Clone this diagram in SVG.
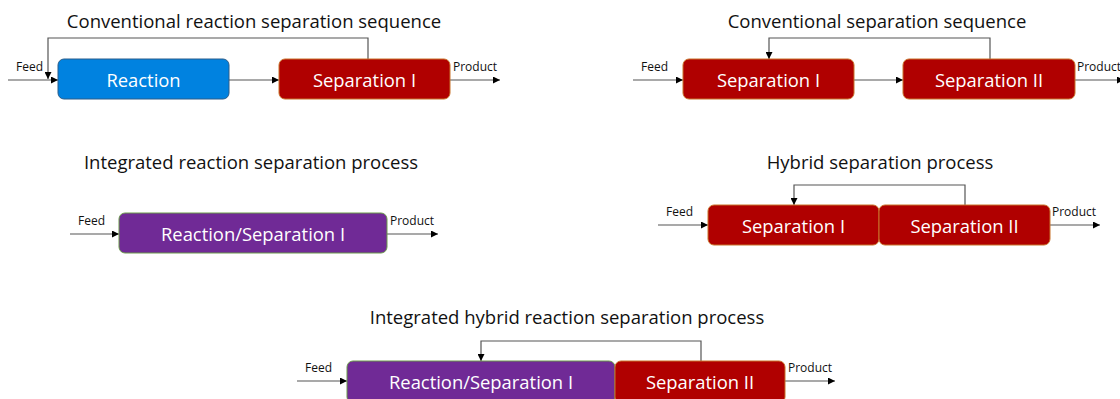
<svg xmlns="http://www.w3.org/2000/svg" width="1120" height="399" viewBox="0 0 1120 399">
  <style>
    .title { font-family: "Open Sans", "Liberation Sans", sans-serif; font-size: 18.5px; fill: #111; text-anchor: middle; }
    .box-text { font-family: "Open Sans", "Liberation Sans", sans-serif; font-size: 18.4px; fill: #fff; text-anchor: middle; dominant-baseline: central; }
    .lbl { font-family: "Open Sans", "Liberation Sans", sans-serif; font-size: 12px; fill: #111; }
    .react { fill: #0082E0; stroke: #2a5d8a; stroke-width: 1; }
    .sep { fill: #B00000; stroke: #c8722a; stroke-width: 1; }
    .combo { fill: #702A96; stroke: #6a9a4a; stroke-width: 1; }
    .line { fill: none; stroke: #555; stroke-width: 1.2; }
  </style>
  <defs>
    <marker id="arrow" viewBox="0 0 10 10" refX="10" refY="5" markerWidth="7" markerHeight="7" markerUnits="userSpaceOnUse" orient="auto">
      <path d="M0,0 L10,5 L0,10 z" fill="#000"/>
    </marker>
  </defs>
  <rect width="1120" height="399" fill="#fff"/>

  <!-- titles -->
  <text class="title" x="254" y="28">Conventional reaction separation sequence</text>
  <text class="title" x="877" y="28">Conventional separation sequence</text>
  <text class="title" x="251" y="169">Integrated reaction separation process</text>
  <text class="title" x="880" y="169">Hybrid separation process</text>
  <text class="title" x="567" y="324">Integrated hybrid reaction separation process</text>

  <!-- connectors -->
  <g id="connectors">
    <!-- conventional reaction separation sequence -->
    <line class="line" x1="8" y1="80" x2="58" y2="80" marker-end="url(#arrow)"/>
    <line class="line" x1="229" y1="80" x2="279" y2="80" marker-end="url(#arrow)"/>
    <line class="line" x1="450" y1="80" x2="500" y2="80" marker-end="url(#arrow)"/>
    <polyline class="line" points="368,59 368,38 48,38 48,79" marker-end="url(#arrow)"/>
    <!-- conventional separation sequence -->
    <line class="line" x1="633" y1="80" x2="683" y2="80" marker-end="url(#arrow)"/>
    <line class="line" x1="854" y1="80" x2="903" y2="80" marker-end="url(#arrow)"/>
    <line class="line" x1="1075" y1="80" x2="1124" y2="80" marker-end="url(#arrow)"/>
    <polyline class="line" points="990,59 990,38 769,38 769,59" marker-end="url(#arrow)"/>
    <!-- integrated reaction separation process -->
    <line class="line" x1="70" y1="234" x2="119" y2="234" marker-end="url(#arrow)"/>
    <line class="line" x1="387" y1="234" x2="438" y2="234" marker-end="url(#arrow)"/>
    <!-- hybrid separation process -->
    <line class="line" x1="658" y1="225" x2="708" y2="225" marker-end="url(#arrow)"/>
    <line class="line" x1="1050" y1="225" x2="1100" y2="225" marker-end="url(#arrow)"/>
    <polyline class="line" points="965,205 965,185 794,185 794,205" marker-end="url(#arrow)"/>
    <!-- integrated hybrid reaction separation process -->
    <line class="line" x1="297" y1="381" x2="347" y2="381" marker-end="url(#arrow)"/>
    <line class="line" x1="785" y1="381" x2="835" y2="381" marker-end="url(#arrow)"/>
    <polyline class="line" points="701,361 701,341 481,341 481,361" marker-end="url(#arrow)"/>
  </g>

  <!-- stream labels -->
  <text class="lbl" x="16" y="71">Feed</text>
  <text class="lbl" x="453" y="71">Product</text>
  <text class="lbl" x="641" y="71">Feed</text>
  <text class="lbl" x="1077" y="71">Product</text>
  <text class="lbl" x="78" y="225">Feed</text>
  <text class="lbl" x="390" y="225">Product</text>
  <text class="lbl" x="666" y="216">Feed</text>
  <text class="lbl" x="1052" y="216">Product</text>
  <text class="lbl" x="305" y="372">Feed</text>
  <text class="lbl" x="788" y="372">Product</text>

  <!-- conventional reaction separation sequence -->
  <g id="reaction">
    <rect class="react" x="58" y="59" width="171" height="40" rx="6"/>
    <text class="box-text" x="143.5" y="79">Reaction</text>
  </g>
  <g id="separation-1a">
    <rect class="sep" x="279" y="59" width="171" height="40" rx="6"/>
    <text class="box-text" x="364.5" y="79">Separation I</text>
  </g>

  <!-- conventional separation sequence -->
  <g id="separation-1b">
    <rect class="sep" x="683" y="59" width="171" height="40" rx="6"/>
    <text class="box-text" x="768.5" y="79">Separation I</text>
  </g>
  <g id="separation-2b">
    <rect class="sep" x="903" y="59" width="172" height="40" rx="6"/>
    <text class="box-text" x="989" y="79">Separation II</text>
  </g>

  <!-- integrated reaction separation process -->
  <g id="reaction-separation-1">
    <rect class="combo" x="119" y="213" width="268" height="40" rx="6"/>
    <text class="box-text" x="253" y="233">Reaction/Separation I</text>
  </g>

  <!-- hybrid separation process -->
  <g id="separation-1c">
    <rect class="sep" x="708" y="205" width="171" height="40" rx="6"/>
    <text class="box-text" x="793.5" y="225">Separation I</text>
  </g>
  <g id="separation-2c">
    <rect class="sep" x="879" y="205" width="171" height="40" rx="6"/>
    <text class="box-text" x="964.5" y="225">Separation II</text>
  </g>

  <!-- integrated hybrid reaction separation process -->
  <g id="reaction-separation-2">
    <rect class="combo" x="347" y="361" width="268" height="42" rx="6"/>
    <text class="box-text" x="481" y="381">Reaction/Separation I</text>
  </g>
  <g id="separation-2d">
    <rect class="sep" x="615" y="361" width="170" height="42" rx="6"/>
    <text class="box-text" x="700" y="381">Separation II</text>
  </g>
</svg>
